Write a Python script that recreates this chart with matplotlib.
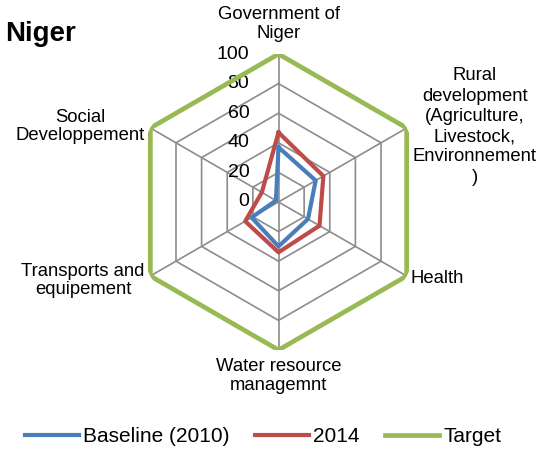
import numpy as np
import matplotlib
matplotlib.use('Agg')
import matplotlib.pyplot as plt

plt.rcParams['font.family'] = ['Liberation Sans', 'DejaVu Sans']

categories = [
    'Government of\nNiger',
    'Rural\ndevelopment\n(Agriculture,\nLivestock,\nEnvironnement\n)',
    'Health',
    'Water resource\nmanagemnt',
    'Transports and\nequipement',
    'Social\nDeveloppement',
]
baseline_2010 = [37, 29, 23, 30, 21, 2]
values_2014 = [47, 35, 32, 34, 26, 13]
target = [100, 100, 100, 100, 100, 100]
ring_values = [0, 20, 40, 60, 80, 100]

BLUE = '#4A7EBB'
RED = '#BE4B48'
GREEN = '#98B954'
GRID = '#8C8C8C'

n = len(categories)
angles = np.linspace(0, 2 * np.pi, n, endpoint=False)
closed = np.append(angles, angles[0])


def close(vals):
    return list(vals) + [vals[0]]


fig = plt.figure(figsize=(5.47, 4.53), dpi=100)
ax = fig.add_axes([0.2386, 0.2274, 0.5411, 0.6534], projection='polar')
ax.set_theta_zero_location('N')
ax.set_theta_direction(-1)
ax.set_ylim(0, 100)
ax.grid(False)
ax.spines['polar'].set_visible(False)
ax.set_xticks([])
ax.set_yticks([])
ax.patch.set_alpha(0)

# hexagonal grid rings and spokes
for r in ring_values[1:]:
    ax.plot(closed, [r] * (n + 1), color=GRID, lw=1.2, zorder=1)
for a in angles:
    ax.plot([a, a], [0, 100], color=GRID, lw=1.2, zorder=1)

ax.plot(closed, close(baseline_2010), color=BLUE, lw=3.0, label='Baseline (2010)', zorder=3)
ax.plot(closed, close(values_2014), color=RED, lw=3.0, label='2014', zorder=2)
ax.plot(closed, close(target), color=GREEN, lw=3.4, label='Target', zorder=4,
        solid_joinstyle='miter')

# radial value labels
for r in ring_values:
    ax.annotate(str(r), xy=(0, r), xytext=(-21, 0), textcoords='offset points',
                ha='right', va='center', fontsize=14)

# category labels
label_pos = [
    ((0, 9), 'center', 'bottom', 1.1),
    ((49, 1), 'center', 'center', 1.25),
    ((3, -2), 'left', 'center', 1.1),
    ((0, -6), 'center', 'top', 1.1),
    ((-4, -3), 'right', 'center', 1.1),
    ((-4, 1), 'right', 'center', 1.1),
]
for a, text, (off, ha, va, ls) in zip(angles, categories, label_pos):
    ax.annotate(text, xy=(a, 100), xytext=off, textcoords='offset points',
                ha=ha, va=va, fontsize=13.3, multialignment='center',
                linespacing=ls)

fig.text(0.009, 1 - 40.7 / 453, 'Niger', fontsize=20, fontweight='bold',
         ha='left', va='baseline')

fig.legend(loc='center', bbox_to_anchor=(263 / 547, 1 - 437 / 453), ncol=3,
           frameon=False, fontsize=15, handlelength=2.6, handletextpad=0.2,
           columnspacing=1.2)

fig.savefig('out.png', dpi=100)
